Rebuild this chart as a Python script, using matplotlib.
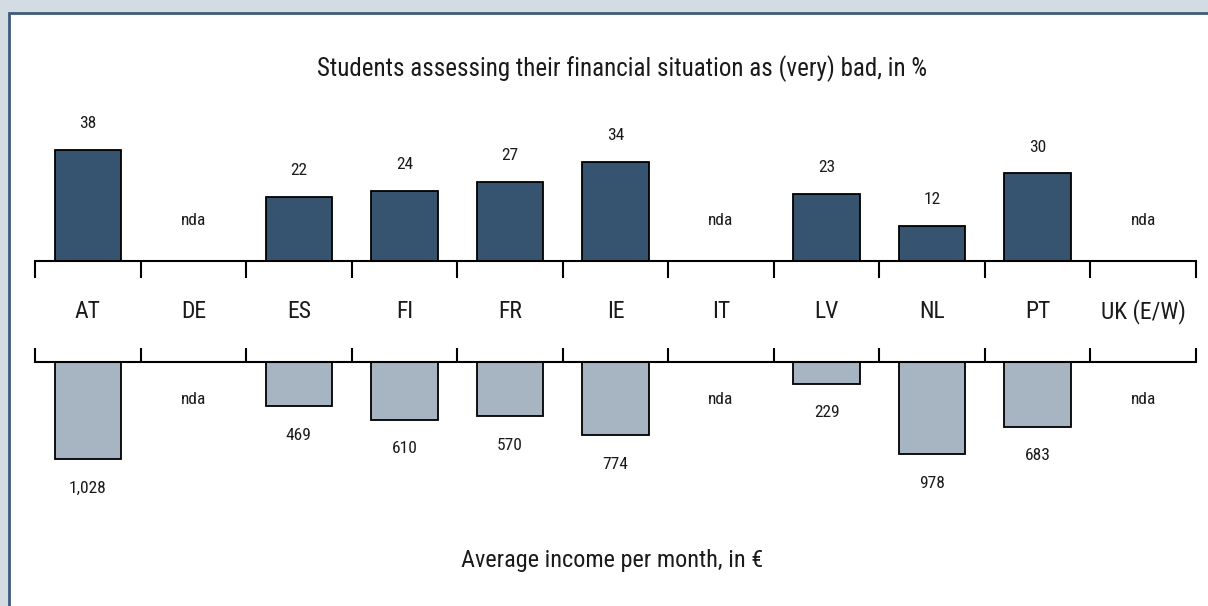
import matplotlib.pyplot as plt
from matplotlib.patches import Rectangle
from matplotlib.transforms import blended_transform_factory

# country codes and the two indicators (None = no data available)
countries = ['AT', 'DE', 'ES', 'FI', 'FR', 'IE', 'IT', 'LV', 'NL', 'PT', 'UK (E/W)']
bad_share = [38, None, 22, 24, 27, 34, None, 23, 12, 30, None]
income = [1028, None, 469, 610, 570, 774, None, 229, 978, 683, None]

FONT = ['Liberation Sans Narrow', 'DejaVu Sans Condensed', 'Roboto Condensed', 'Roboto']
plt.rcParams['font.family'] = FONT
plt.rcParams['font.stretch'] = 'condensed'

TXT = '#1a1a1a'
W, H = 1208, 606
fig = plt.figure(figsize=(W / 100, H / 100), dpi=100, facecolor='#d3dbe3')

# white panel with a dark blue edge
fig.patches.append(Rectangle((9 / W, -0.1), 1.2, 1 - 13 / H + 0.1,
                             transform=fig.transFigure, facecolor='white',
                             edgecolor='#3f5b7b', linewidth=2.0, zorder=-5))

x0, x1 = 35 / W, 1196 / W
ax_top = fig.add_axes([x0, 1 - 261 / H, x1 - x0, 161 / H])
ax_bot = fig.add_axes([x0, 1 - 520 / H, x1 - x0, 158 / H])

n = len(countries)
for ax in (ax_top, ax_bot):
    ax.set_facecolor('none')
    ax.set_zorder(2)
    ax.set_xlim(0, n)
    ax.set_xticks(range(n + 1))
    ax.set_xticklabels([])
    ax.set_yticks([])
    for s in ax.spines.values():
        s.set_visible(False)

ax_top.set_ylim(0, 161 / 2.92)
ax_bot.set_ylim(-158 / 0.0945, 0)

ax_top.spines['bottom'].set_visible(True)
ax_top.spines['bottom'].set_linewidth(1.5)
ax_top.tick_params(axis='x', direction='out', length=12, width=1.5, pad=0)

ax_bot.spines['top'].set_visible(True)
ax_bot.spines['top'].set_linewidth(1.5)
ax_bot.xaxis.set_ticks_position('top')
ax_bot.tick_params(axis='x', direction='out', length=10, width=1.5, pad=0)

bw = 0.63
for i, (v, m) in enumerate(zip(bad_share, income)):
    xc = i + 0.5
    if v is None:
        ax_top.text(xc, 13.7, 'nda', ha='center', va='center', fontsize=12.5, color=TXT)
    else:
        ax_top.bar(xc, v, width=bw, color='#36536f', edgecolor='black', linewidth=1.3)
        ax_top.annotate(f'{v}', (xc, v), xytext=(0, 19), textcoords='offset points',
                        ha='center', va='center', fontsize=12.5, color=TXT)
    if m is None:
        ax_bot.text(xc, -392, 'nda', ha='center', va='center', fontsize=12.5, color=TXT)
    else:
        ax_bot.bar(xc, -m, width=bw, color='#a7b5c3', edgecolor='black', linewidth=1.3)
        ax_bot.annotate(f'{m:,}', (xc, -m), xytext=(0, -21), textcoords='offset points',
                        ha='center', va='center', fontsize=12.5, color=TXT)

# country labels between the two axes
tr = blended_transform_factory(ax_top.transData, fig.transFigure)
for i, c in enumerate(countries):
    ax_top.text(i + 0.5, 1 - 312 / H, c, transform=tr, ha='center', va='center',
                fontsize=17, color=TXT)

fig.text(622 / W, 1 - 69 / H, 'Students assessing their financial situation as (very) bad, in %',
         ha='center', va='center', fontsize=18, color=TXT)
fig.text(612 / W, 1 - 560 / H, 'Average income per month, in €',
         ha='center', va='center', fontsize=17.5, color=TXT)

fig.savefig('out.png', dpi=100, facecolor=fig.get_facecolor())
